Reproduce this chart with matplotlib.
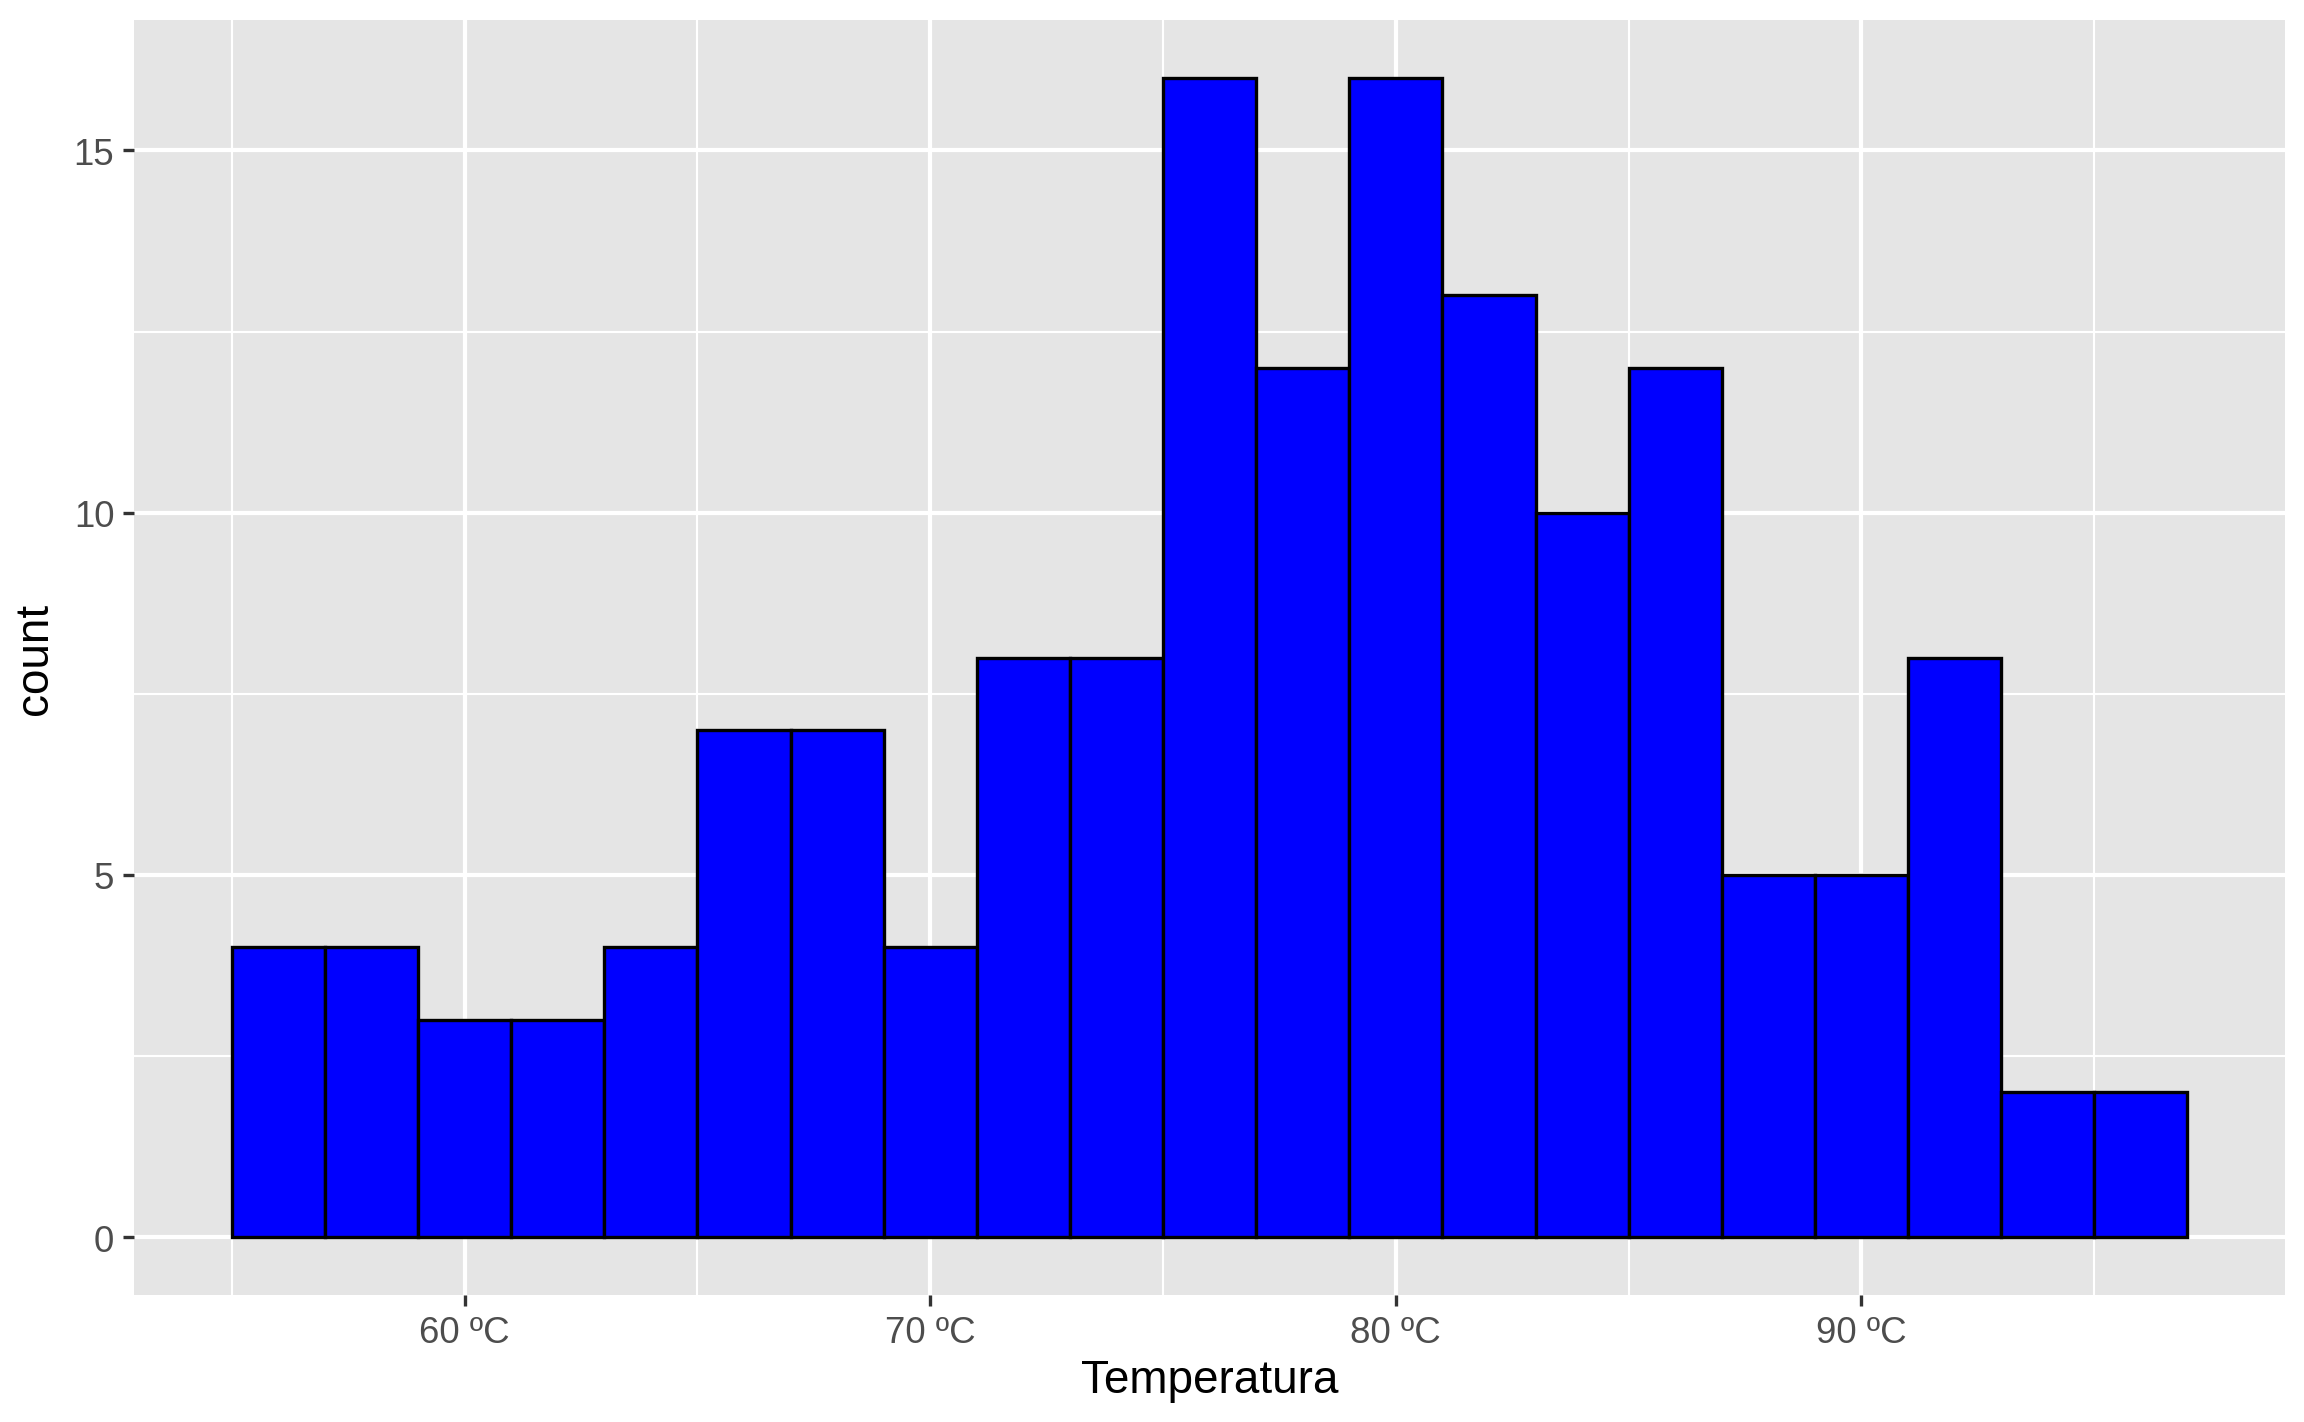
import numpy as np
import matplotlib
matplotlib.use("Agg")
import matplotlib.pyplot as plt

# histogram bins (width 2) and counts
bin_edges = np.arange(55, 98, 2)
counts = [4, 4, 3, 3, 4, 7, 7, 4, 8, 8, 16, 12, 16, 13, 10, 12, 5, 5, 8, 2, 2]
x_ticks = [60, 70, 80, 90]
x_labels = [f"{t} ºC" for t in x_ticks]
y_ticks = [0, 5, 10, 15]

plt.rcParams["font.family"] = ["Liberation Sans", "DejaVu Sans"]

fig = plt.figure(figsize=(7.68, 4.7433), dpi=300)
ax = fig.add_axes([0.0582, 0.0892, 0.9336, 0.896])
ax.set_facecolor("#E5E5E5")

ax.bar(bin_edges[:-1], counts, width=2, align="edge",
       color="#0000FF", edgecolor="black", linewidth=0.8, zorder=3)

ax.set_xlim(55 - 2.1, 97 + 2.1)
ax.set_ylim(-0.8, 16.8)

ax.set_xticks(x_ticks)
ax.set_xticklabels(x_labels)
ax.set_xticks([55, 65, 75, 85, 95], minor=True)
ax.set_yticks(y_ticks)
ax.set_yticks([2.5, 7.5, 12.5], minor=True)

ax.grid(which="major", color="white", linewidth=1.0, zorder=0)
ax.grid(which="minor", color="white", linewidth=0.5, zorder=0)
ax.set_axisbelow(True)

for s in ax.spines.values():
    s.set_visible(False)

ax.tick_params(which="major", length=2.75, width=0.8, color="#333333",
               labelsize=8.8, labelcolor="#4D4D4D", pad=2)
ax.tick_params(which="minor", length=0)

ax.set_xlabel("Temperatura", fontsize=11, labelpad=2)
ax.set_ylabel("count", fontsize=11, labelpad=4)

fig.savefig("out.png", dpi=300, facecolor="white")
